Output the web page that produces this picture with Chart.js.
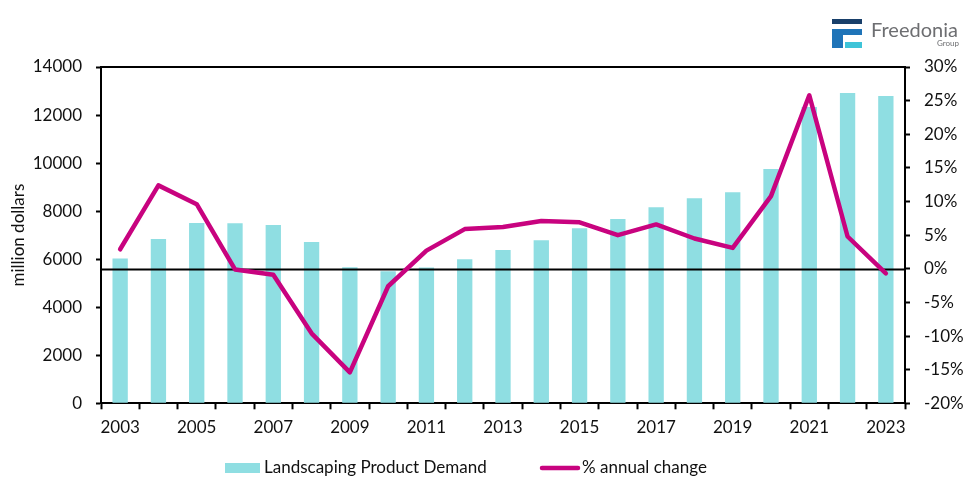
<!DOCTYPE html>
<html>
<head>
<meta charset="utf-8">
<title>Landscaping Product Demand</title>
<script src="https://cdn.jsdelivr.net/npm/chart.js@4"></script>
<style>
  html, body { margin: 0; padding: 0; background: #fff; }
  #wrap { position: relative; width: 976px; height: 495px; }
</style>
</head>
<body>
<div id="wrap"><canvas id="grafico"></canvas></div>
<script>
// datos
const years = ["2003", "2004", "2005", "2006", "2007", "2008", "2009", "2010", "2011", "2012", "2013",
  "2014", "2015", "2016", "2017", "2018", "2019", "2020", "2021", "2022", "2023"];
const demand = [6030, 6840, 7510, 7500, 7420, 6710, 5660, 5500, 5650, 6000, 6380,
  6790, 7290, 7670, 8160, 8540, 8790, 9750, 12330, 12920, 12790];
const annualChange = [2.9, 12.4, 9.6, -0.1, -0.9, -9.6, -15.4, -2.6, 2.7, 5.9, 6.2,
  7.1, 6.9, 5.0, 6.6, 4.5, 3.1, 10.8, 25.8, 4.8, -0.7];
const leftTicks = [0, 14000, 2000];   // min, max, paso
const rightTicks = [-20, 30, 5];

const colorBarra = "#8fdee2";
const colorLinea = "#c8037f";
const colorTexto = "#111111";
const fuente = "Lato, 'DejaVu Sans', sans-serif";

Chart.defaults.font.family = fuente;
Chart.defaults.font.size = 17;
Chart.defaults.color = colorTexto;

// linea del cero (encima de las barras, debajo de la linea)
const lineaCero = {
  id: "lineaCero",
  afterDatasetDraw(chart, args) {
    if (args.index !== 0) return;
    const { ctx, chartArea } = chart;
    const y = Math.round(chart.scales.y1.getPixelForValue(0)) + 0.5;
    ctx.save();
    ctx.strokeStyle = "#000";
    ctx.lineWidth = 2;
    ctx.beginPath();
    ctx.moveTo(chartArea.left, y);
    ctx.lineTo(chartArea.right, y);
    ctx.stroke();
    ctx.restore();
  }
};

// borde superior, leyenda y logo
const extras = {
  id: "extras",
  afterDraw(chart) {
    const { ctx, chartArea } = chart;
    ctx.save();
    ctx.strokeStyle = "#000";
    ctx.lineWidth = 2;
    ctx.beginPath();
    ctx.moveTo(chartArea.left - 1, chartArea.top);
    ctx.lineTo(chartArea.right + 1, chartArea.top);
    ctx.stroke();

    // leyenda
    const ds = chart.data.datasets;
    ctx.font = "17px " + fuente;
    ctx.textBaseline = "middle";
    ctx.fillStyle = ds[0].backgroundColor;
    ctx.fillRect(225, 463, 35, 10);
    ctx.fillStyle = colorTexto;
    ctx.fillText(ds[0].label, 264, 468);
    ctx.strokeStyle = ds[1].borderColor;
    ctx.lineWidth = 4.5;
    ctx.lineCap = "round";
    ctx.beginPath();
    ctx.moveTo(542, 468);
    ctx.lineTo(578, 468);
    ctx.stroke();
    ctx.fillText(ds[1].label, 582, 468);

    // logo Freedonia
    ctx.fillStyle = "#183f6a";
    ctx.fillRect(832, 19, 30, 5);
    ctx.fillStyle = "#1f74b8";
    ctx.fillRect(832, 29, 30, 6);
    ctx.fillRect(832, 29, 11, 19);
    ctx.fillStyle = "#3ec4d8";
    ctx.fillRect(845, 42, 17, 6);
    ctx.fillStyle = "#6d6e71";
    ctx.textBaseline = "alphabetic";
    ctx.font = "20px " + fuente;
    ctx.fillText("Freedonia", 871, 37);
    ctx.font = "8px " + fuente;
    ctx.textAlign = "right";
    ctx.fillText("Group", 959, 46);
    ctx.restore();
  }
};

const ctx = document.getElementById("grafico").getContext("2d");
const chart = new Chart(ctx, {
  data: {
    labels: years,
    datasets: [
      {
        type: "bar",
        label: "Landscaping Product Demand",
        data: demand,
        backgroundColor: colorBarra,
        yAxisID: "y",
        barPercentage: 0.4,
        categoryPercentage: 1,
        order: 1
      },
      {
        type: "line",
        label: "% annual change",
        data: annualChange,
        borderColor: colorLinea,
        backgroundColor: colorLinea,
        borderWidth: 4.5,
        borderJoinStyle: "round",
        borderCapStyle: "round",
        pointRadius: 0,
        tension: 0,
        yAxisID: "y1",
        order: 0
      }
    ]
  },
  options: {
    responsive: true,
    maintainAspectRatio: false,
    animation: false,
    layout: { padding: { top: 67, left: 0, right: 0, bottom: 0 } },
    plugins: {
      legend: { display: false },
      tooltip: { enabled: false }
    },
    scales: {
      x: {
        offset: true,
        grid: {
          offset: true,
          drawOnChartArea: false,
          drawTicks: true,
          tickLength: 6,
          tickWidth: 2,
          tickColor: "#000"
        },
        border: { color: "#000", width: 2 },
        ticks: {
          autoSkip: false,
          maxRotation: 0,
          padding: 8,
          callback: (v, i) => (i % 2 === 0 ? years[i] : "")
        },
        afterFit: (s) => { s.height = 91.7; }
      },
      y: {
        position: "left",
        min: leftTicks[0],
        max: leftTicks[1],
        grid: {
          drawOnChartArea: false,
          tickLength: 5,
          tickWidth: 2,
          tickColor: "#000"
        },
        border: { color: "#000", width: 2 },
        ticks: { stepSize: leftTicks[2], padding: 14, callback: (v) => String(v) },
        title: { display: true, text: "million dollars", padding: { top: 8, bottom: 0 } },
        afterFit: (s) => { s.width = 101; }
      },
      y1: {
        position: "right",
        min: rightTicks[0],
        max: rightTicks[1],
        grid: {
          drawOnChartArea: false,
          tickLength: 5,
          tickWidth: 2,
          tickColor: "#000"
        },
        border: { color: "#000", width: 2 },
        ticks: { stepSize: rightTicks[2], padding: 14, callback: (v) => v + "%" },
        afterFit: (s) => { s.width = 71; }
      }
    }
  },
  plugins: [lineaCero, extras]
});
</script>
</body>
</html>
